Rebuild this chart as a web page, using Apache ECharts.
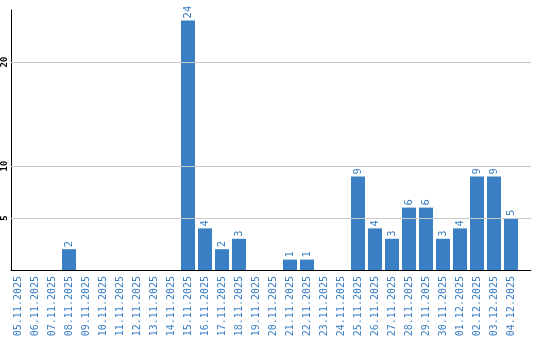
<!DOCTYPE html>
<html>
<head>
<meta charset="utf-8">
<script src="https://cdn.jsdelivr.net/npm/echarts@6/dist/echarts.min.js"></script>
<style>
html,body{margin:0;padding:0;background:#fff;}
#chart{width:540px;height:340px;}
</style>
</head>
<body>
<div id="chart"></div>
<script>
var categories = ['05.11.2025','06.11.2025','07.11.2025','08.11.2025','09.11.2025','10.11.2025','11.11.2025','12.11.2025','13.11.2025','14.11.2025','15.11.2025','16.11.2025','17.11.2025','18.11.2025','19.11.2025','20.11.2025','21.11.2025','22.11.2025','23.11.2025','24.11.2025','25.11.2025','26.11.2025','27.11.2025','28.11.2025','29.11.2025','30.11.2025','01.12.2025','02.12.2025','03.12.2025','04.12.2025'];
var counts = [0,0,0,2,0,0,0,0,0,0,24,4,2,3,0,0,1,1,0,0,9,4,3,6,6,3,4,9,9,5];
var yTicks = [5,10,20];
var yMax = 25;

var blue = '#3a7ec3';
var mono = 'DejaVu Sans Mono';
var chart = echarts.init(document.getElementById('chart'));
chart.setOption({
  animation: false,
  backgroundColor: '#fff',
  grid: [
    {left: 11, top: 10, width: 520, height: 260},
    {left: 9.5, top: 10, width: 510, height: 260}
  ],
  xAxis: [
    {type: 'value', gridIndex: 0, min: 0, max: 1,
     axisLine: {show: true, lineStyle: {color: '#000', width: 1}},
     axisTick: {show: false}, axisLabel: {show: false}, splitLine: {show: false}},
    {type: 'category', gridIndex: 1, data: categories,
     axisLine: {show: false}, axisTick: {show: false}, splitLine: {show: false},
     axisLabel: {interval: 0, rotate: 90, margin: 6, color: blue, fontSize: 10, fontFamily: mono}}
  ],
  yAxis: [
    {type: 'value', gridIndex: 0, min: 0, max: yMax, interval: 5,
     axisLine: {show: true, lineStyle: {color: '#000', width: 1}},
     axisTick: {show: false}, splitLine: {show: false},
     axisLabel: {rotate: 90, margin: 2, color: '#000', fontSize: 9, fontWeight: 'bold', fontFamily: mono,
       formatter: function (v) { return yTicks.indexOf(v) >= 0 ? String(v) : ''; }}},
    {type: 'value', gridIndex: 1, min: 0, max: yMax, show: false}
  ],
  series: [
    {type: 'line', xAxisIndex: 0, yAxisIndex: 0, data: [], z: 1, silent: true,
     markLine: {silent: true, symbol: 'none', animation: false,
       label: {show: false},
       lineStyle: {color: '#c8c8c8', width: 1, type: 'solid'},
       data: yTicks.map(function (v) { return [{xAxis: 0, yAxis: v}, {xAxis: 1, yAxis: v}]; })}},
    {type: 'bar', xAxisIndex: 1, yAxisIndex: 1, data: counts, barWidth: 14, z: 3,
     itemStyle: {color: blue},
     label: {show: true, position: 'top', rotate: 90, align: 'left', verticalAlign: 'middle', distance: 2,
       color: blue, fontSize: 10.5, fontFamily: mono,
       formatter: function (p) { return p.value ? String(p.value) : ''; }}}
  ]
});
</script>
</body>
</html>
